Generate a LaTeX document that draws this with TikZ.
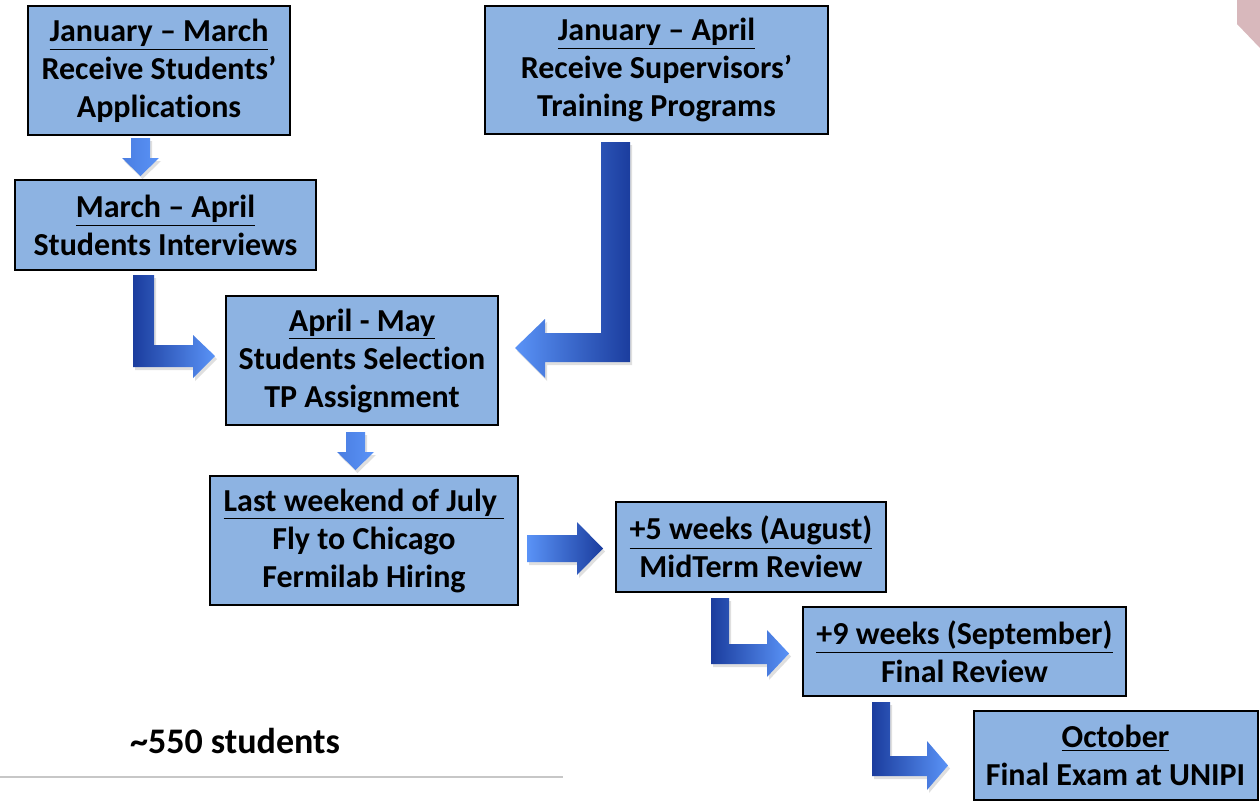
\documentclass[tikz,border=0pt]{standalone}
\usepackage{fontspec}
\setmainfont{Carlito}[Ligatures={TeX,NoCommon}]
\usetikzlibrary{shadows}
\definecolor{boxblue}{HTML}{8DB3E2}
\definecolor{arrdark}{HTML}{1B3D9E}
\definecolor{arrlight}{HTML}{5A93F7}
\definecolor{cornerpink}{HTML}{D8B8BC}
\tikzset{
  stagebox/.style={draw=black, line width=1pt, fill=boxblue, align=center,
    inner sep=0pt, font=\fontsize{16}{19}\selectfont\bfseries},
  flowarrow/.style={draw=none, drop shadow={shadow xshift=1pt, shadow yshift=-1.5pt, opacity=0.25}},
  darktolight/.style={flowarrow, left color=arrdark, right color=arrlight},
  lighttodark/.style={flowarrow, left color=arrlight, right color=arrdark},
  downarrow/.style={flowarrow, left color=arrlight!75!arrdark, right color=arrlight}
}
\begin{document}
\begin{tikzpicture}[x=0.5pt,y=-0.5pt]
\useasboundingbox (0,0) rectangle (1260,803);

% corner decoration and footer rule
\fill[cornerpink] (1237,0) -- (1237,24) -- (1260,48) -- (1260,0) -- cycle;
\draw[line width=0.6pt, draw=black!22] (0,777) -- (563,777);

% stages
\node[stagebox, minimum width=131pt, minimum height=64.5pt] (apps) at (159,70.5)
  {\underline{January – March}\\Receive Students’\\Applications};
\node[stagebox, minimum width=171.5pt, minimum height=64pt] (tprog) at (656.5,70)
  {\underline{January – April}\\Receive Supervisors’\\Training Programs};
\node[stagebox, minimum width=150.5pt, minimum height=45pt] (interv) at (165.5,225)
  {\underline{March – April}\\Students Interviews};
\node[stagebox, minimum width=136pt, minimum height=64.5pt] (select) at (362,360.5)
  {\underline{April - May}\\Students Selection\\TP Assignment};
\node[stagebox, minimum width=154pt, minimum height=64.5pt] (hire) at (364,540.5)
  {\underline{Last weekend of July\ }\\Fly to Chicago\\Fermilab Hiring};
\node[stagebox, minimum width=135pt, minimum height=45pt] (mid) at (751,547)
  {\underline{+5 weeks (August)}\\MidTerm Review};
\node[stagebox, minimum width=161.5pt, minimum height=44.5pt] (final) at (964.5,651.5)
  {\underline{+9 weeks (September)}\\Final Review};
\node[stagebox, minimum width=142pt, minimum height=44.5pt] (exam) at (1115.5,755.5)
  {\underline{October}\\Final Exam at UNIPI};

\node[font=\fontsize{18}{20}\selectfont\bfseries] (count) at (235,741) {\textasciitilde 550 students};

% block arrows between stages
% applications -> interviews
\path[downarrow] (131,138) -- (150,138) -- (150,158) -- (159,158) -- (140.5,176)
  -- (122,158) -- (131,158) -- cycle;
% interviews -> selection
\path[darktolight] (133,275) -- (154,275) -- (154,345) -- (193,345) -- (193,335)
  -- (215,356) -- (193,378) -- (193,367) -- (133,367) -- cycle;
% training programs -> selection
\path[lighttodark] (630,142) -- (601,142) -- (601,333) -- (545,333) -- (545,319)
  -- (515,348) -- (545,378) -- (545,362) -- (630,362) -- cycle;
% selection -> hiring
\path[downarrow] (346,432) -- (365,432) -- (365,452) -- (374,452) -- (355.5,470)
  -- (337,452) -- (346,452) -- cycle;
% hiring -> midterm
\path[lighttodark] (527,535) -- (577,535) -- (577,522) -- (603,548.5) -- (577,575)
  -- (577,562) -- (527,562) -- cycle;
% midterm -> final review
\path[darktolight] (711,598) -- (729,598) -- (729,644) -- (767,644) -- (767,630)
  -- (789,653.5) -- (767,677) -- (767,664) -- (711,664) -- cycle;
% final review -> exam
\path[darktolight] (872,702) -- (890,702) -- (890,756) -- (927,756) -- (927,741)
  -- (948,765.5) -- (927,790) -- (927,776) -- (872,776) -- cycle;
\end{tikzpicture}
\end{document}
